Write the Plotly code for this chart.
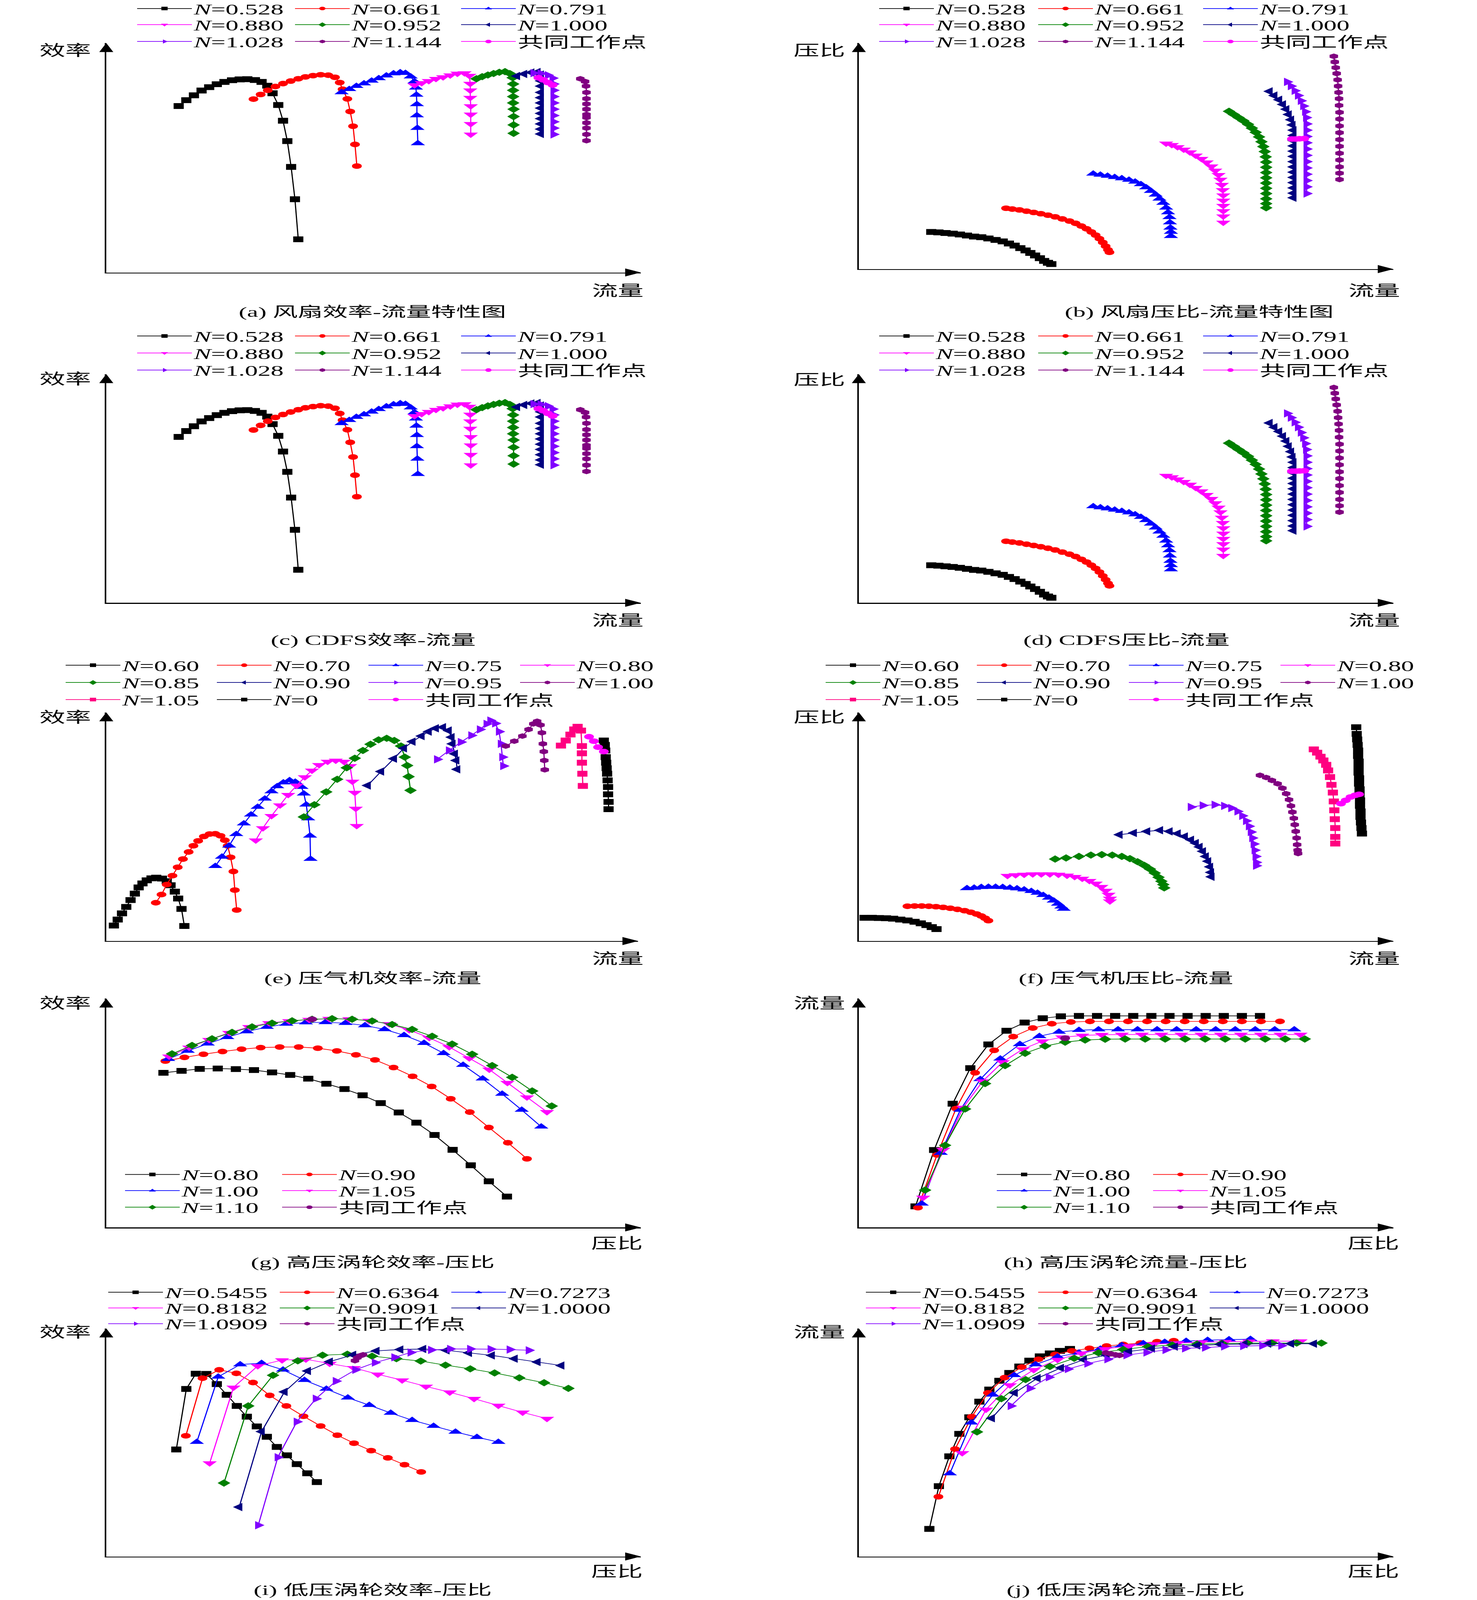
import plotly.graph_objects as go

W, H = 3780, 7129
SERIF = "Liberation Serif, Times New Roman, Noto Sans CJK SC, serif"
CJK = "Liberation Serif, Noto Sans CJK SC, sans-serif"

# speed lines (relative corrected speed)
fan_speeds = ["0.528", "0.661", "0.791", "0.880", "0.952", "1.000", "1.028", "1.144"]
comp_speeds = ["0.60", "0.70", "0.75", "0.80", "0.85", "0.90", "0.95", "1.00", "1.05", "0"]
hpt_speeds = ["0.80", "0.90", "1.00", "1.05", "1.10"]
lpt_speeds = ["0.5455", "0.6364", "0.7273", "0.8182", "0.9091", "1.0000", "1.0909"]

# fan / CDFS: (flow, efficiency), arbitrary units
fan_eff_curves = [
    [(152, 793), (168, 821), (184, 844), (200, 867), (216, 883), (232, 897), (248, 908), (264, 916), (280, 920), (296, 921),
     (312, 917), (326, 908), (338, 890), (349, 854), (361, 798), (371, 723), (380, 626), (388, 503), (396, 349), (403, 158)],
    [(309, 826), (324, 848), (339, 868), (355, 886), (371, 900), (387, 912), (403, 923), (418, 932), (434, 938), (450, 942),
     (466, 940), (480, 930), (490, 905), (496, 873), (506, 827), (512, 767), (518, 697), (522, 610), (526, 507)],
    [(494, 858), (510, 873), (525, 888), (541, 900), (557, 913), (572, 925), (588, 938), (603, 948), (617, 953), (628, 950),
     (639, 933), (647, 910), (650, 880), (651, 846), (652, 801), (652, 748), (653, 688), (654, 615)],
    [(647, 893), (662, 903), (677, 913), (692, 923), (707, 931), (722, 940), (737, 948), (752, 950), (762, 938), (764, 900),
     (764, 868), (764, 833), (765, 793), (765, 753), (765, 708), (765, 658)],
    [(777, 923), (789, 933), (801, 941), (813, 948), (825, 954), (837, 957), (847, 948), (853, 928), (854, 898), (854, 868),
     (854, 838), (854, 808), (855, 778), (855, 743), (855, 703), (855, 663)],
    [(862, 936), (877, 946), (892, 953), (905, 955), (912, 943), (912, 913), (912, 888), (912, 858), (912, 833), (912, 808),
     (912, 783), (912, 758), (912, 733), (912, 708), (912, 683), (912, 660)],
    [(897, 950), (912, 948), (927, 940), (937, 926), (939, 898), (939, 868), (939, 838), (939, 808), (939, 778), (939, 748),
     (939, 718), (939, 688), (939, 658)],
    [(995, 923), (1005, 910), (1007, 888), (1008, 858), (1008, 828), (1008, 803), (1008, 778), (1008, 753), (1008, 738),
     (1008, 713), (1008, 688), (1008, 658), (1008, 628)],
]
fan_eff_common = [(907, 928), (917, 918), (927, 905), (937, 893)]

# fan / CDFS: (flow, pressure ratio)
fan_pr_curves = [
    [(152, 177), (167, 175), (182, 172), (197, 169), (212, 165), (227, 160), (242, 155), (257, 152), (272, 146), (287, 139),
     (302, 132), (315, 122), (327, 112), (339, 100), (350, 89), (360, 77), (370, 65), (380, 52), (389, 39), (397, 30), (404, 24)],
    [(309, 290), (322, 286), (337, 282), (352, 276), (367, 270), (382, 264), (397, 257), (412, 249), (427, 239), (442, 229),
     (455, 218), (467, 205), (478, 192), (488, 177), (497, 162), (505, 145), (512, 127), (518, 109), (523, 92), (526, 80)],
    [(492, 454), (507, 449), (522, 444), (537, 438), (552, 432), (567, 425), (580, 416), (592, 404), (603, 389), (613, 372),
     (623, 354), (631, 335), (639, 315), (645, 292), (649, 270), (652, 247), (653, 222), (654, 197), (655, 177), (655, 157)],
    [(645, 599), (657, 592), (669, 582), (682, 570), (695, 557), (707, 542), (719, 526), (730, 509), (740, 490), (748, 470),
     (755, 449), (759, 427), (762, 402), (764, 377), (765, 352), (765, 327), (765, 302), (765, 277), (765, 252), (765, 222)],
    [(777, 752), (787, 737), (797, 722), (807, 707), (817, 690), (825, 672), (833, 652), (840, 630), (845, 607), (849, 584),
     (852, 560), (854, 535), (855, 510), (855, 485), (855, 460), (855, 435), (855, 410), (855, 385), (855, 360), (855, 335),
     (855, 312), (855, 292)],
    [(862, 847), (872, 827), (882, 807), (890, 785), (897, 762), (902, 737), (907, 712), (910, 687), (912, 662), (912, 637),
     (912, 612), (912, 587), (912, 562), (912, 537), (912, 512), (912, 487), (912, 462), (912, 437), (912, 412), (912, 387),
     (912, 362), (912, 340)],
    [(899, 892), (907, 872), (915, 850), (922, 827), (928, 802), (933, 777), (937, 750), (939, 722), (940, 692), (940, 662),
     (940, 632), (940, 602), (940, 572), (940, 542), (940, 512), (940, 482), (940, 452), (940, 422), (940, 392), (940, 360)],
    [(997, 1014), (999, 987), (1001, 960), (1003, 932), (1005, 902), (1006, 872), (1007, 842), (1008, 812), (1008, 780),
     (1009, 747), (1009, 715), (1009, 682), (1009, 650), (1009, 617), (1009, 585), (1009, 552), (1009, 520), (1009, 487),
     (1009, 457), (1009, 427)],
]
fan_pr_common = [(909, 620), (917, 620), (925, 621), (935, 622)]

# compressor: (flow, efficiency)
comp_eff_curves = [
    [(16, 70), (24, 97), (33, 125), (42, 154), (51, 185), (60, 214), (68, 242), (76, 260), (85, 274), (95, 283), (105, 286),
     (117, 282), (127, 270), (135, 252), (144, 223), (151, 192), (158, 145), (164, 68)],
    [(104, 173), (116, 210), (127, 255), (139, 295), (150, 333), (161, 370), (173, 402), (183, 430), (193, 452), (205, 472),
     (217, 483), (229, 484), (240, 475), (249, 455), (255, 430), (261, 378), (267, 314), (270, 230), (274, 140)],
    [(229, 338), (243, 380), (258, 430), (273, 482), (289, 530), (304, 570), (318, 605), (333, 642), (347, 675), (359, 698),
     (372, 715), (385, 725), (397, 718), (410, 695), (415, 665), (420, 615), (424, 553), (428, 475), (429, 370)],
    [(314, 455), (329, 510), (347, 565), (365, 613), (382, 660), (400, 702), (417, 740), (432, 770), (447, 795), (465, 810),
     (482, 815), (499, 810), (512, 790), (517, 720), (522, 670), (524, 598), (526, 520)],
    [(415, 560), (437, 615), (462, 673), (485, 730), (505, 782), (522, 825), (539, 860), (555, 888), (572, 908), (589, 915),
     (605, 905), (619, 880), (627, 830), (632, 792), (635, 742), (639, 680)],
    [(549, 702), (577, 765), (604, 823), (625, 870), (643, 900), (662, 925), (677, 945), (692, 960), (707, 965), (719, 950),
     (725, 920), (727, 890), (732, 845), (735, 815), (737, 775)],
    [(695, 820), (720, 860), (745, 898), (767, 928), (785, 955), (799, 980), (807, 995), (817, 982), (825, 945), (829, 890),
     (832, 830), (834, 790)],
    [(839, 880), (857, 902), (874, 925), (887, 955), (897, 980), (905, 992), (912, 975), (915, 940), (917, 890), (919, 855),
     (920, 815), (921, 773)],
    [(955, 882), (965, 905), (975, 932), (983, 955), (990, 967), (997, 950), (999, 880), (999, 847), (999, 805), (1000, 755),
     (1001, 700)],
    [(1045, 905), (1047, 885), (1048, 860), (1049, 830), (1050, 805), (1051, 780), (1052, 755), (1053, 725), (1054, 695),
     (1054, 662), (1055, 628), (1055, 595)],
]
comp_eff_common = [(1014, 922), (1024, 902), (1033, 875), (1045, 855)]

# compressor: (flow, pressure ratio)
comp_pr_curves = [
    [(12, 105), (27, 105), (42, 104), (57, 103), (72, 101), (87, 97), (102, 93), (117, 87), (130, 80), (142, 72), (153, 63),
     (163, 54)],
    [(102, 157), (117, 158), (132, 158), (147, 157), (162, 155), (177, 152), (192, 148), (207, 143), (222, 137), (235, 130),
     (247, 122), (257, 113), (265, 103), (272, 92)],
    [(227, 238), (242, 240), (257, 243), (272, 244), (287, 244), (302, 243), (317, 240), (332, 237), (347, 232), (362, 225),
     (375, 217), (387, 207), (399, 195), (409, 182), (418, 168), (425, 155), (430, 145)],
    [(312, 295), (329, 298), (347, 300), (365, 302), (383, 302), (401, 302), (419, 300), (437, 296), (453, 290), (469, 282),
     (484, 272), (497, 260), (509, 245), (518, 228), (524, 210), (527, 192), (527, 180)],
    [(412, 370), (435, 375), (462, 382), (487, 388), (510, 390), (532, 388), (552, 382), (569, 372), (585, 358), (599, 342),
     (611, 325), (621, 307), (629, 288), (635, 270), (639, 255), (641, 240)],
    [(547, 480), (577, 488), (605, 495), (632, 500), (652, 495), (669, 485), (684, 472), (697, 457), (707, 442), (715, 425),
     (722, 405), (728, 382), (733, 360), (737, 335), (739, 310), (740, 290)],
    [(697, 605), (722, 612), (747, 615), (767, 610), (782, 600), (795, 585), (805, 565), (813, 542), (819, 518), (823, 492),
     (826, 465), (829, 438), (831, 410), (833, 382), (834, 355), (834, 340)],
    [(842, 748), (855, 738), (867, 725), (879, 710), (889, 690), (897, 665), (903, 638), (907, 610), (910, 582), (913, 554),
     (915, 525), (917, 495), (919, 465), (920, 435), (921, 410), (922, 395)],
    [(955, 865), (962, 850), (969, 832), (975, 815), (981, 795), (985, 770), (989, 740), (992, 705), (995, 670), (997, 630),
     (998, 590), (999, 550), (1000, 510), (1000, 470), (1000, 440)],
    [(1044, 965), (1045, 935), (1046, 910), (1047, 885), (1048, 860), (1048, 835), (1049, 810), (1049, 785), (1049, 760),
     (1050, 735), (1050, 710), (1051, 685), (1051, 660), (1052, 635), (1052, 610), (1053, 585), (1053, 560), (1054, 535),
     (1055, 510), (1056, 485)],
]
comp_pr_common = [(1012, 620), (1022, 635), (1032, 650), (1042, 658), (1050, 662)]

# HP turbine: (pressure ratio, efficiency)
hpt_eff_curves = [
    [(120, 791), (158, 801), (196, 811), (234, 813), (272, 810), (310, 805), (348, 793), (386, 780), (424, 761), (462, 735),
     (500, 708), (538, 676), (576, 636), (614, 588), (651, 536), (689, 473), (727, 397), (765, 318), (803, 236), (841, 158)],
    [(124, 851), (164, 870), (204, 886), (244, 900), (284, 912), (324, 920), (364, 923), (404, 923), (444, 917), (484, 903),
     (524, 883), (564, 857), (603, 818), (643, 773), (683, 721), (723, 658), (763, 590), (803, 511), (843, 433), (883, 351)],
    [(130, 861), (171, 903), (213, 940), (254, 973), (295, 1002), (337, 1025), (378, 1041), (419, 1048), (460, 1049),
     (502, 1045), (543, 1033), (584, 1013), (625, 983), (667, 943), (708, 891), (749, 831), (790, 761), (831, 683),
     (872, 601), (913, 515)],
    [(132, 875), (174, 921), (216, 960), (258, 996), (300, 1026), (342, 1046), (384, 1056), (426, 1063), (468, 1068),
     (510, 1066), (552, 1058), (594, 1041), (636, 1010), (678, 970), (720, 923), (762, 866), (804, 808), (842, 740),
     (883, 666), (925, 591)],
    [(138, 888), (180, 931), (222, 965), (264, 998), (306, 1026), (348, 1045), (390, 1057), (432, 1065), (474, 1068),
     (516, 1065), (558, 1056), (600, 1038), (642, 1013), (684, 978), (726, 938), (768, 886), (810, 828), (852, 768),
     (894, 698), (935, 621)],
]
hpt_eff_common = [(432, 1065)]

# HP turbine: (pressure ratio, flow)
hpt_flow_curves = [
    [(119, 108), (158, 396), (197, 633), (234, 815), (272, 936), (310, 1006), (348, 1048), (386, 1070), (424, 1080),
     (462, 1082), (500, 1082), (538, 1082), (576, 1082), (614, 1082), (652, 1082), (690, 1082), (728, 1082), (766, 1082),
     (804, 1082), (842, 1082)],
    [(124, 101), (164, 371), (204, 608), (244, 791), (284, 906), (324, 976), (365, 1020), (405, 1042), (445, 1051),
     (485, 1054), (525, 1054), (565, 1054), (605, 1054), (644, 1054), (684, 1054), (724, 1054), (764, 1054), (804, 1054),
     (844, 1054), (884, 1054)],
    [(132, 121), (172, 381), (213, 601), (255, 758), (297, 863), (338, 937), (379, 978), (420, 1000), (462, 1009),
     (503, 1012), (544, 1012), (585, 1012), (626, 1012), (667, 1012), (708, 1012), (749, 1012), (790, 1012), (832, 1012),
     (873, 1012), (914, 1012)],
    [(135, 153), (177, 398), (219, 613), (260, 748), (302, 846), (344, 912), (385, 953), (427, 973), (469, 982), (510, 986),
     (552, 987), (594, 987), (635, 987), (677, 987), (719, 987), (760, 987), (802, 987), (844, 987), (885, 987), (927, 987)],
    [(139, 191), (181, 420), (223, 606), (265, 736), (307, 828), (349, 891), (391, 928), (433, 948), (475, 959), (517, 963),
     (559, 964), (601, 964), (643, 964), (685, 964), (727, 964), (769, 964), (811, 964), (853, 964), (895, 964), (936, 964)],
]
hpt_flow_common = [(433, 968)]

# LP turbine: (pressure ratio, efficiency)
lpt_eff_curves = [
    [(147, 548), (168, 858), (188, 936), (210, 935), (232, 883), (253, 828), (274, 771), (295, 716), (316, 666), (337, 613),
     (358, 561), (379, 518), (400, 473), (422, 426), (442, 381)],
    [(167, 618), (202, 913), (237, 956), (273, 938), (308, 891), (343, 825), (378, 771), (414, 718), (450, 668), (485, 621),
     (520, 580), (556, 542), (591, 505), (626, 470), (661, 433)],
    [(190, 586), (235, 920), (281, 983), (326, 990), (371, 956), (416, 903), (462, 858), (507, 813), (552, 775), (597, 735),
     (642, 698), (687, 668), (733, 638), (778, 611), (823, 586)],
    [(217, 478), (267, 866), (318, 976), (369, 1006), (419, 1010), (469, 988), (520, 966), (570, 933), (621, 903), (671, 871),
     (721, 841), (772, 808), (823, 773), (874, 738), (925, 706)],
    [(247, 376), (298, 771), (350, 928), (402, 1002), (454, 1031), (506, 1036), (558, 1026), (609, 1013), (660, 1001),
     (712, 980), (764, 961), (815, 940), (867, 915), (919, 890), (970, 861)],
    [(279, 253), (326, 640), (374, 843), (423, 950), (469, 998), (518, 1033), (567, 1053), (617, 1060), (665, 1063),
     (714, 1056), (761, 1043), (809, 1030), (857, 1013), (905, 996), (955, 978)],
    [(319, 160), (360, 508), (400, 690), (440, 808), (482, 898), (523, 956), (564, 993), (605, 1020), (639, 1045), (682, 1058),
     (722, 1063), (764, 1063), (807, 1062), (847, 1060), (887, 1056)],
]
lpt_eff_common = [(522, 1003), (527, 1018), (533, 1028), (539, 1033)]

# LP turbine: (pressure ratio, flow)
lpt_flow_curves = [
    [(148, 141), (168, 360), (190, 513), (211, 628), (232, 713), (253, 793), (274, 855), (295, 900), (316, 940), (337, 973),
     (358, 1003), (380, 1025), (401, 1040), (422, 1053), (443, 1063)],
    [(167, 306), (202, 550), (237, 716), (271, 838), (306, 916), (342, 970), (377, 1010), (412, 1035), (447, 1053),
     (484, 1066), (520, 1078), (555, 1086), (591, 1093), (626, 1100), (661, 1105)],
    [(191, 425), (236, 685), (281, 828), (326, 928), (371, 983), (417, 1023), (462, 1043), (507, 1063), (552, 1081),
     (597, 1091), (642, 1098), (687, 1103), (732, 1108), (777, 1111), (822, 1113)],
    [(217, 530), (267, 753), (317, 878), (367, 956), (417, 1008), (467, 1041), (517, 1063), (567, 1078), (619, 1088),
     (669, 1093), (719, 1098), (769, 1100), (819, 1102), (869, 1103), (927, 1103)],
    [(248, 638), (299, 808), (350, 906), (401, 973), (452, 1015), (503, 1043), (555, 1060), (607, 1075), (658, 1083),
     (710, 1088), (762, 1091), (815, 1093), (867, 1093), (919, 1093), (971, 1093)],
    [(279, 708), (327, 838), (375, 913), (424, 966), (472, 1008), (520, 1031), (567, 1050), (615, 1065), (663, 1075),
     (710, 1081), (759, 1086), (809, 1088), (859, 1090), (907, 1090), (955, 1090)],
    [(319, 771), (359, 861), (399, 918), (439, 960), (480, 988), (522, 1010), (562, 1031), (604, 1045), (644, 1058),
     (685, 1066), (727, 1070), (767, 1076), (807, 1078), (847, 1080), (887, 1080)],
]
lpt_flow_common = [(519, 1043), (529, 1038), (539, 1033), (547, 1030)]

# marker styles (colour, symbol)
BLACK, RED, BLUE, MAGENTA = "#000000", "#FF0000", "#0000FF", "#FF00FF"
GREEN, NAVY, VIOLET, PURPLE, PINK = "#008000", "#000080", "#8000FF", "#800080", "#FF0080"
base_styles = [(BLACK, "square"), (RED, "circle"), (BLUE, "triangle-up"), (MAGENTA, "triangle-down"),
               (GREEN, "diamond"), (NAVY, "triangle-left"), (VIOLET, "triangle-right"), (PURPLE, "hexagon")]
comp_styles = base_styles + [(PINK, "square"), (BLACK, "square")]
hpt_styles = base_styles[:5]
lpt_styles = base_styles[:7]
SIZES = {"square": 26, "circle": 25, "diamond": 25, "hexagon": 25,
         "triangle-up": 32, "triangle-down": 32, "triangle-left": 32, "triangle-right": 32}

fan_cols, fan_cols_r = [354, 758, 1183], [2253, 2660, 3082]
panels = [
    dict(curves=fan_eff_curves, common=fan_eff_common, names=fan_speeds, styles=base_styles, cstyle=(MAGENTA, "circle"),
         box=(272, 1640, 1214, 192), rng=(1122, 1093), ylab="效率", xlab="流量", ylab_pos=(167, 224), xlab_pos=(1581, 1295),
         cap="(a) 风扇效率-流量特性图", cap_pos=(953, 1389), cols=fan_cols, rows=[38, 110, 185]),
    dict(curves=fan_pr_curves, common=fan_pr_common, names=fan_speeds, styles=base_styles, cstyle=(MAGENTA, "circle"),
         box=(2198, 3566, 1199, 192), rng=(1122, 1077), ylab="压比", xlab="流量", ylab_pos=(2097, 224), xlab_pos=(3517, 1295),
         cap="(b) 风扇压比-流量特性图", cap_pos=(3069, 1389), cols=fan_cols_r, rows=[38, 110, 185]),
    dict(curves=fan_eff_curves, common=fan_eff_common, names=fan_speeds, styles=base_styles, cstyle=(MAGENTA, "circle"),
         box=(272, 1640, 2686, 1667), rng=(1122, 1093), ylab="效率", xlab="流量", ylab_pos=(167, 1688), xlab_pos=(1581, 2764),
         cap="(c) CDFS效率-流量", cap_pos=(955, 2853), cols=fan_cols, rows=[1497, 1573, 1649]),
    dict(curves=fan_pr_curves, common=fan_pr_common, names=fan_speeds, styles=base_styles, cstyle=(MAGENTA, "circle"),
         box=(2198, 3566, 2686, 1667), rng=(1122, 1077), ylab="压比", xlab="流量", ylab_pos=(2097, 1691), xlab_pos=(3517, 2764),
         cap="(d) CDFS压比-流量", cap_pos=(2883, 2853), cols=fan_cols_r, rows=[1497, 1573, 1649]),
    dict(curves=comp_eff_curves, common=comp_eff_common, names=comp_speeds, styles=comp_styles, cstyle=(MAGENTA, "circle"),
         box=(272, 1633, 4193, 3174), rng=(1117, 1032), ylab="效率", xlab="流量", ylab_pos=(167, 3196), xlab_pos=(1581, 4270),
         cap="(e) 压气机效率-流量", cap_pos=(954, 4359), cols=[171, 558, 946, 1334], rows=[2964, 3041, 3117]),
    dict(curves=comp_pr_curves, common=comp_pr_common, names=comp_speeds, styles=comp_styles, cstyle=(MAGENTA, "circle"),
         box=(2198, 3566, 4193, 3174), rng=(1122, 1032), ylab="压比", xlab="流量", ylab_pos=(2097, 3196), xlab_pos=(3517, 4270),
         cap="(f) 压气机压比-流量", cap_pos=(2881, 4359), cols=[2116, 2503, 2892, 3280], rows=[2964, 3041, 3117]),
    dict(curves=hpt_eff_curves, common=hpt_eff_common, names=hpt_speeds, styles=hpt_styles, cstyle=(PURPLE, "circle"),
         box=(272, 1640, 5469, 4449), rng=(1122, 1171), ylab="效率", xlab="压比", ylab_pos=(167, 4469), xlab_pos=(1579, 5540),
         cap="(g) 高压涡轮效率-压比", cap_pos=(954, 5624), cols=[323, 725], rows=[5233, 5305, 5379]),
    dict(curves=hpt_flow_curves, common=hpt_flow_common, names=hpt_speeds, styles=hpt_styles, cstyle=(PURPLE, "circle"),
         box=(2198, 3566, 5469, 4449), rng=(1122, 1171), ylab="流量", xlab="压比", ylab_pos=(2097, 4469), xlab_pos=(3515, 5540),
         cap="(h) 高压涡轮流量-压比", cap_pos=(2881, 5624), cols=[2554, 2954], rows=[5233, 5305, 5379]),
    dict(curves=lpt_eff_curves, common=lpt_eff_common, names=lpt_speeds, styles=lpt_styles, cstyle=(PURPLE, "hexagon"),
         box=(272, 1640, 6935, 5919), rng=(1122, 1168), ylab="效率", xlab="压比", ylab_pos=(167, 5935), xlab_pos=(1579, 7002),
         cap="(i) 低压涡轮效率-压比", cap_pos=(954, 7084), cols=[280, 719, 1158], rows=[5758, 5828, 5898]),
    dict(curves=lpt_flow_curves, common=lpt_flow_common, names=lpt_speeds, styles=lpt_styles, cstyle=(PURPLE, "hexagon"),
         box=(2198, 3566, 6935, 5919), rng=(1122, 1168), ylab="流量", xlab="压比", ylab_pos=(2097, 5935), xlab_pos=(3515, 7002),
         cap="(j) 低压涡轮流量-压比", cap_pos=(2881, 7084), cols=[2219, 2660, 3099], rows=[5758, 5828, 5898]),
]


def px(x):
    return x / W


def py(y):
    return 1 - y / H


axis_style = dict(showline=True, linewidth=4, linecolor="black", showticklabels=False, ticks="",
                  showgrid=False, zeroline=False)

fig = go.Figure()
layout = {}
shapes, annotations = [], []
k = 0
for i, p in enumerate(panels, start=1):
    sfx = "" if i == 1 else str(i)
    x0, x1, yb, yt = p["box"]
    layout["xaxis" + sfx] = dict(domain=[px(x0), px(x1)], range=[0, p["rng"][0]], anchor="y" + sfx, **axis_style)
    layout["yaxis" + sfx] = dict(domain=[py(yb), py(yt)], range=[0, p["rng"][1]], anchor="x" + sfx, **axis_style)

    # arrow heads on both axes
    shapes.append(dict(type="path", xref="paper", yref="paper", fillcolor="black", line=dict(width=0),
                       path=f"M{px(x0)},{py(yt)} L{px(x0 - 18)},{py(yt + 40)} L{px(x0 + 18)},{py(yt + 40)} Z"))
    shapes.append(dict(type="path", xref="paper", yref="paper", fillcolor="black", line=dict(width=0),
                       path=f"M{px(x1)},{py(yb)} L{px(x1 - 40)},{py(yb - 18)} L{px(x1 - 40)},{py(yb + 18)} Z"))

    for text, (tx, ty), size in [(p["ylab"], p["ylab_pos"], 66), (p["xlab"], p["xlab_pos"], 66),
                                 (p["cap"], p["cap_pos"], 64)]:
        annotations.append(dict(text=text, x=px(tx), y=py(ty), xref="paper", yref="paper", showarrow=False,
                                xanchor="center", yanchor="middle", font=dict(family=CJK, size=size, color="black")))

    series = [(f"<i>N</i>={n}", c, s) for n, c, s in zip(p["names"], p["curves"], p["styles"])]
    series.append(("共同工作点", p["common"], p["cstyle"]))
    ncol = len(p["cols"])
    for j, (label, pts, (color, symbol)) in enumerate(series):
        k += 1
        lid = f"legend{k + 1}"
        xs, ys = zip(*pts)
        fig.add_trace(go.Scatter(
            x=list(xs), y=list(ys), mode="lines+markers", name=label, legend=lid,
            xaxis="x" + sfx, yaxis="y" + sfx,
            line=dict(color=color, width=3),
            marker=dict(symbol=symbol, size=SIZES[symbol], color=color, line=dict(width=0)),
        ))
        r, c = divmod(j, ncol)
        layout[lid] = dict(x=px(p["cols"][c] - 8), y=py(p["rows"][r]), xanchor="left", yanchor="middle",
                           bgcolor="rgba(0,0,0,0)", borderwidth=0, itemwidth=140, tracegroupgap=0,
                           font=dict(family=SERIF, size=66, color="black"))

fig.update_layout(
    width=W, height=H,
    margin=dict(l=0, r=0, t=0, b=0, autoexpand=False),
    paper_bgcolor="white", plot_bgcolor="white",
    shapes=shapes, annotations=annotations,
    **layout,
)

# the page has no body margin; if the window is smaller than the figure, fit the figure into it
fit = """
document.body.style.margin = '0';
document.body.style.overflow = 'hidden';
var gd = document.getElementById('{plot_id}');
var sx = Math.min(1, window.innerWidth / %d), sy = Math.min(1, window.innerHeight / %d);
if (sx < 1 || sy < 1) {
  gd.style.transformOrigin = '0 0';
  gd.style.transform = 'scale(' + sx + ',' + sy + ')';
}
""" % (W, H)
fig.write_html("out.html", post_script=fit, config={"displayModeBar": False})
